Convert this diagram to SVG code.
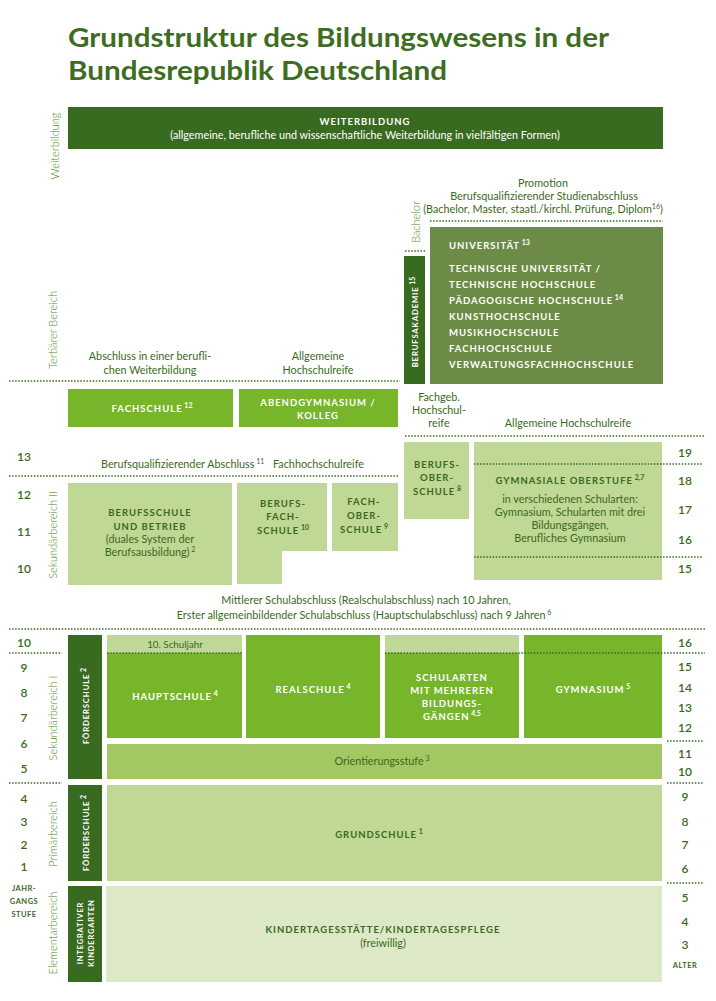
<svg xmlns="http://www.w3.org/2000/svg" width="716" height="1001" viewBox="0 0 716 1001">
  <style>
    text { font-family: Lato, "Noto Sans", "Liberation Sans", sans-serif; }
    .title { font-family: Lato, "Noto Sans", sans-serif; font-weight: 700; font-size: 27px; fill: #3e6d1f; }
    .dark { fill: #386a1f; }
    .olive { fill: #6b8b46; }
    .bright { fill: #77b52b; }
    .light { fill: #bfd896; }
    .mid { fill: #a3c763; }
    .pale { fill: #dde9c6; }
    .cw { font-weight: 700; font-size: 9.5px; letter-spacing: 1px; fill: #ffffff; }
    .cd { font-weight: 700; font-size: 9.5px; letter-spacing: 1px; fill: #3a6a1d; }
    .rw { font-weight: 700; font-size: 7.8px; letter-spacing: 0.8px; fill: #ffffff; text-anchor: middle; }
    .t { font-size: 10.8px; fill: #3a6a1d; }
    .tw { font-size: 10.8px; fill: #ffffff; }
    .num { font-size: 12px; font-weight: 600; fill: #3a6a1d; text-anchor: middle; }
    .small { font-size: 7.5px; font-weight: 700; letter-spacing: 0.5px; fill: #3a6a1d; text-anchor: middle; }
    .side { font-size: 11px; font-weight: 300; fill: #4d8a25; text-anchor: middle; }
    .mc { text-anchor: middle; }
    .sup { font-size: 7px; letter-spacing: 0; }
    .dots { stroke: #386a1f; stroke-width: 1.5; stroke-dasharray: 1.5 1.6; fill: none; }
  </style>

  <!-- heading -->
  <g id="title">
    <text class="title" x="68" y="47" textLength="541" lengthAdjust="spacingAndGlyphs">Grundstruktur des Bildungswesens in der</text>
    <text class="title" x="68" y="80" textLength="379" lengthAdjust="spacingAndGlyphs">Bundesrepublik Deutschland</text>
  </g>

  <!-- area labels on the left edge -->
  <g id="area-labels">
    <text class="side" transform="translate(59,146) rotate(-90)">Weiterbildung</text>
    <text class="side" transform="translate(57,330) rotate(-90)">Tertiärer Bereich</text>
    <text class="side" transform="translate(57,535) rotate(-90)">Sekundärbereich II</text>
    <text class="side" transform="translate(57,718) rotate(-90)">Sekundärbereich I</text>
    <text class="side" transform="translate(57,834) rotate(-90)">Primärbereich</text>
    <text class="side" transform="translate(57,933) rotate(-90)">Elementarbereich</text>
  </g>

  <!-- dotted level boundaries -->
  <g id="connectors">
    <line class="dots" x1="430" y1="221" x2="663" y2="221"/>
    <line class="dots" x1="405" y1="251" x2="425" y2="251"/>
    <line class="dots" x1="9" y1="381" x2="400" y2="381"/>
    <line class="dots" x1="405" y1="436" x2="705" y2="436"/>
    <line class="dots" x1="474" y1="464" x2="703" y2="464"/>
    <line class="dots" x1="9" y1="476" x2="398" y2="476"/>
    <line class="dots" x1="474" y1="557" x2="703" y2="557"/>
    <line class="dots" x1="9" y1="629" x2="705" y2="629"/>
    <line class="dots" x1="9" y1="653" x2="62" y2="653"/>
    <line class="dots" x1="667" y1="741" x2="703" y2="741"/>
    <line class="dots" x1="9" y1="783" x2="62" y2="783"/>
    <line class="dots" x1="667" y1="783" x2="703" y2="783"/>
    <line class="dots" x1="667" y1="883" x2="703" y2="883"/>
  </g>

  <g id="weiterbildung">
    <rect class="dark" x="68" y="107" width="595" height="42"/>
    <text class="cw mc" x="365" y="125">WEITERBILDUNG</text>
    <text class="tw mc" x="365" y="139">(allgemeine, berufliche und wissenschaftliche Weiterbildung in vielfältigen Formen)</text>
  </g>

  <g id="studienabschluss">
    <text class="t mc" x="543" y="187">Promotion</text>
    <text class="t mc" x="544" y="200">Berufsqualifizierender Studienabschluss</text>
    <text class="t mc" x="543" y="213">(Bachelor, Master, staatl./kirchl. Prüfung, Diplom<tspan class="sup" dy="-4">16</tspan><tspan dy="4">)</tspan></text>
  </g>

  <g id="bachelor">
    <text class="side" transform="translate(420,222) rotate(-90)">Bachelor</text>
  </g>

  <g id="berufsakademie">
    <rect class="dark" x="404" y="256" width="21" height="128"/>
    <text class="rw" transform="translate(418,322) rotate(-90)">BERUFSAKADEMIE<tspan class="sup" dy="-3.5"> 15</tspan></text>
  </g>

  <g id="hochschulen">
    <rect class="olive" x="430" y="227" width="233" height="157"/>
    <text class="cw" x="449" y="249">UNIVERSITÄT<tspan class="sup" dy="-4"> 13</tspan></text>
    <text class="cw" x="449" y="272">TECHNISCHE UNIVERSITÄT /</text>
    <text class="cw" x="449" y="288">TECHNISCHE HOCHSCHULE</text>
    <text class="cw" x="449" y="304">PÄDAGOGISCHE HOCHSCHULE<tspan class="sup" dy="-4"> 14</tspan></text>
    <text class="cw" x="449" y="320">KUNSTHOCHSCHULE</text>
    <text class="cw" x="449" y="336">MUSIKHOCHSCHULE</text>
    <text class="cw" x="449" y="352">FACHHOCHSCHULE</text>
    <text class="cw" x="449" y="368">VERWALTUNGSFACHHOCHSCHULE</text>
  </g>

  <g id="abschluesse-tertiaer">
    <text class="t mc" x="150" y="360">Abschluss in einer berufli-</text>
    <text class="t mc" x="150" y="374">chen Weiterbildung</text>
    <text class="t mc" x="318" y="360">Allgemeine</text>
    <text class="t mc" x="318" y="374">Hochschulreife</text>
    <text class="t mc" x="439" y="401">Fachgeb.</text>
    <text class="t mc" x="439" y="414">Hochschul-</text>
    <text class="t mc" x="439" y="427">reife</text>
    <text class="t mc" x="568" y="427">Allgemeine Hochschulreife</text>
  </g>

  <g id="fachschule">
    <rect class="bright" x="68" y="389" width="165" height="38"/>
    <text class="cw mc" x="152" y="412">FACHSCHULE<tspan class="sup" dy="-4"> 12</tspan></text>
  </g>

  <g id="abendgymnasium">
    <rect class="bright" x="239" y="389" width="159" height="38"/>
    <text class="cw mc" x="318" y="406">ABENDGYMNASIUM /</text>
    <text class="cw mc" x="318" y="419">KOLLEG</text>
  </g>

  <g id="abschluesse-sek2">
    <text class="t" x="101" y="468">Berufsqualifizierender Abschluss<tspan class="sup" dy="-4"> 11</tspan></text>
    <text class="t" x="273" y="468">Fachhochschulreife</text>
  </g>

  <g id="berufsoberschule">
    <rect class="light" x="404" y="442" width="65" height="77"/>
    <text class="cd mc" x="437" y="468">BERUFS-</text>
    <text class="cd mc" x="437" y="481">OBER-</text>
    <text class="cd mc" x="437" y="495">SCHULE<tspan class="sup" dy="-4"> 8</tspan></text>
  </g>

  <g id="gymnasiale-oberstufe">
    <rect class="light" x="474" y="442" width="188" height="138"/>
    <line class="dots" x1="474" y1="464" x2="662" y2="464"/>
    <line class="dots" x1="474" y1="557" x2="662" y2="557"/>
    <text class="cd mc" x="570" y="484">GYMNASIALE OBERSTUFE<tspan class="sup" dy="-4"> 2,7</tspan></text>
    <text class="t mc" x="570" y="503">in verschiedenen Schularten:</text>
    <text class="t mc" x="570" y="516">Gymnasium, Schularten mit drei</text>
    <text class="t mc" x="570" y="529">Bildungsgängen,</text>
    <text class="t mc" x="570" y="542">Berufliches Gymnasium</text>
  </g>

  <g id="berufsschule">
    <rect class="light" x="68" y="483" width="164" height="102"/>
    <text class="cd mc" x="150" y="516">BERUFSSCHULE</text>
    <text class="cd mc" x="150" y="530">UND BETRIEB</text>
    <text class="t mc" x="150" y="543">(duales System der</text>
    <text class="t mc" x="150" y="556">Berufsausbildung)<tspan class="sup" dy="-4"> 2</tspan></text>
  </g>

  <g id="berufsfachschule">
    <path class="light" d="M237,483 H327 V551 H282 V584 H237 Z"/>
    <text class="cd mc" x="283" y="507">BERUFS-</text>
    <text class="cd mc" x="283" y="520">FACH-</text>
    <text class="cd mc" x="283" y="534">SCHULE<tspan class="sup" dy="-4"> 10</tspan></text>
  </g>

  <g id="fachoberschule">
    <rect class="light" x="332" y="483" width="66" height="68"/>
    <text class="cd mc" x="364" y="505">FACH-</text>
    <text class="cd mc" x="364" y="519">OBER-</text>
    <text class="cd mc" x="364" y="533">SCHULE<tspan class="sup" dy="-4"> 9</tspan></text>
  </g>

  <g id="abschluesse-sek1">
    <text class="t mc" x="366" y="604">Mittlerer Schulabschluss (Realschulabschluss) nach 10 Jahren,</text>
    <text class="t mc" x="364" y="619">Erster allgemeinbildender Schulabschluss (Hauptschulabschluss) nach 9 Jahren<tspan class="sup" dy="-4"> 6</tspan></text>
  </g>

  <g id="foerderschule-sek1">
    <rect class="dark" x="68" y="635" width="34" height="144"/>
    <text class="rw" transform="translate(89,706) rotate(-90)">FÖRDERSCHULE<tspan class="sup" dy="-3.5"> 2</tspan></text>
  </g>

  <g id="hauptschule">
    <rect class="light" x="107" y="635" width="135" height="18"/>
    <rect class="bright" x="107" y="653" width="135" height="85"/>
    <line class="dots" x1="107" y1="653" x2="242" y2="653"/>
    <text class="t mc" x="175" y="648" style="font-size:9.8px">10. Schuljahr</text>
    <text class="cw mc" x="175" y="700">HAUPTSCHULE<tspan class="sup" dy="-4"> 4</tspan></text>
  </g>

  <g id="realschule">
    <rect class="bright" x="246" y="635" width="134" height="103"/>
    <text class="cw mc" x="313" y="693">REALSCHULE<tspan class="sup" dy="-4"> 4</tspan></text>
  </g>

  <g id="schularten-mehrere-bildungsgaenge">
    <rect class="light" x="385" y="635" width="134" height="18"/>
    <rect class="bright" x="385" y="653" width="134" height="85"/>
    <text class="cw mc" x="452" y="681">SCHULARTEN</text>
    <text class="cw mc" x="452" y="694">MIT MEHREREN</text>
    <text class="cw mc" x="452" y="707">BILDUNGS-</text>
    <text class="cw mc" x="452" y="720">GÄNGEN<tspan class="sup" dy="-4"> 4,5</tspan></text>
  </g>

  <g id="gymnasium">
    <rect class="bright" x="524" y="635" width="138" height="103"/>
    <text class="cw mc" x="593" y="693">GYMNASIUM<tspan class="sup" dy="-4"> 5</tspan></text>
  </g>

  <!-- grade-10 line across the upper part of the school types -->
  <line class="dots" x1="385" y1="653" x2="705" y2="653"/>

  <g id="orientierungsstufe">
    <rect class="mid" x="107" y="744" width="555" height="35"/>
    <text class="t mc" x="382" y="765">Orientierungsstufe<tspan class="sup" dy="-4"> 3</tspan></text>
  </g>

  <g id="foerderschule-primar">
    <rect class="dark" x="68" y="785" width="34" height="96"/>
    <text class="rw" transform="translate(89,833) rotate(-90)">FÖRDERSCHULE<tspan class="sup" dy="-3.5"> 2</tspan></text>
  </g>

  <g id="grundschule">
    <rect class="light" x="107" y="785" width="555" height="96"/>
    <text class="cd mc" x="379" y="838">GRUNDSCHULE<tspan class="sup" dy="-4"> 1</tspan></text>
  </g>

  <g id="integrativer-kindergarten">
    <rect class="dark" x="68" y="886" width="34" height="96"/>
    <text class="rw" style="font-size:7.5px" transform="translate(83,933) rotate(-90)">INTEGRATIVER</text>
    <text class="rw" style="font-size:7.5px" transform="translate(94,933) rotate(-90)">KINDERGARTEN</text>
  </g>

  <g id="kindertagesstaette">
    <rect class="pale" x="106" y="886" width="556" height="96"/>
    <text class="cd mc" x="383" y="933">KINDERTAGESSTÄTTE/KINDERTAGESPFLEGE</text>
    <text class="t mc" x="383" y="947">(freiwillig)</text>
  </g>

  <!-- grade levels (left) -->
  <g id="jahrgangsstufen">
    <text class="num" x="24" y="461">13</text>
    <text class="num" x="24" y="499">12</text>
    <text class="num" x="24" y="536">11</text>
    <text class="num" x="24" y="573">10</text>
    <text class="num" x="24" y="647">10</text>
    <text class="num" x="24" y="672">9</text>
    <text class="num" x="24" y="697">8</text>
    <text class="num" x="24" y="722">7</text>
    <text class="num" x="24" y="748">6</text>
    <text class="num" x="24" y="773">5</text>
    <text class="num" x="24" y="803">4</text>
    <text class="num" x="24" y="826">3</text>
    <text class="num" x="24" y="849">2</text>
    <text class="num" x="24" y="871">1</text>
    <text class="small" x="24" y="891">JAHR-</text>
    <text class="small" x="24" y="904">GANGS</text>
    <text class="small" x="24" y="917">STUFE</text>
  </g>

  <!-- ages (right) -->
  <g id="alter">
    <text class="num" x="685" y="457">19</text>
    <text class="num" x="685" y="485">18</text>
    <text class="num" x="685" y="514">17</text>
    <text class="num" x="685" y="544">16</text>
    <text class="num" x="685" y="573">15</text>
    <text class="num" x="685" y="647">16</text>
    <text class="num" x="685" y="671">15</text>
    <text class="num" x="685" y="692">14</text>
    <text class="num" x="685" y="712">13</text>
    <text class="num" x="685" y="732">12</text>
    <text class="num" x="685" y="758">11</text>
    <text class="num" x="685" y="776">10</text>
    <text class="num" x="685" y="801">9</text>
    <text class="num" x="685" y="826">8</text>
    <text class="num" x="685" y="849">7</text>
    <text class="num" x="685" y="873">6</text>
    <text class="num" x="685" y="902">5</text>
    <text class="num" x="685" y="926">4</text>
    <text class="num" x="685" y="949">3</text>
    <text class="small" x="685" y="968">ALTER</text>
  </g>
</svg>
